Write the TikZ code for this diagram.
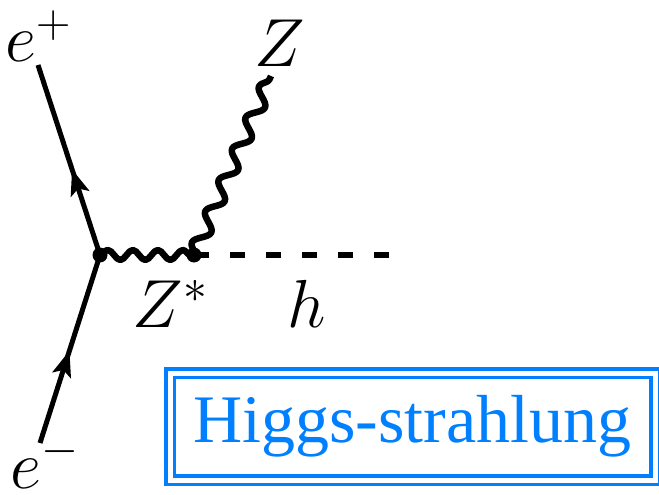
\RequirePackage{fix-cm}
\documentclass[tikz,border=0pt]{standalone}
\usepackage{fontspec}
\usepackage{tikz}
\usetikzlibrary{calc,decorations.pathmorphing}
\newfontfamily\boxserif{Liberation Serif}
\definecolor{hsblue}{RGB}{0,128,255}

\begin{document}
\begin{tikzpicture}[
  x=1pt, y=-1pt,
  font=\fontsize{68}{80}\selectfont,
  every node/.style={inner sep=0pt},
  fermion/.style={line width=5pt},
  zstar/.style={line width=6.5pt, line join=round, decorate,
    decoration={snake, segment length=25pt, amplitude=5pt}},
  zboson/.style={line width=6.5pt, line join=round, decorate,
    decoration={snake, segment length=34pt, amplitude=7pt}},
  scalar/.style={line width=5.5pt, dash pattern=on 15pt off 21pt},
  dot/.style={circle, fill, inner sep=0pt, minimum size=15pt},
  hsbox/.style={draw=hsblue, text=hsblue, double=white, double distance=5pt,
    line width=3.5pt, minimum width=485pt, minimum height=107pt, inner sep=0pt,
    font=\fontsize{68}{80}\selectfont\boxserif}
]
\useasboundingbox (0,0) rectangle (659,495);
% vertices and external legs
\coordinate (v1) at (100,255);
\coordinate (v2) at (194,255);
\coordinate (ep) at (38,65);
\coordinate (em) at (40,443);
\coordinate (zp) at (271,76);
\coordinate (hp) at (401,255);
% arrow tips and their bases
\coordinate (t1) at ($(em)!0.49!(v1)$);
\coordinate (b1) at ($(t1)!26pt!(em)$);
\coordinate (t2) at ($(v1)!0.45!(ep)$);
\coordinate (b2) at ($(t2)!26pt!(v1)$);
% lines
\draw[fermion] (em) -- (v1);
\draw[fermion] (v1) -- (ep);
\fill (t1) -- ($(b1)!10pt!90:(t1)$) -- ($(t1)!20pt!(b1)$) -- ($(b1)!10pt!-90:(t1)$) -- cycle;
\fill (t2) -- ($(b2)!10pt!90:(t2)$) -- ($(t2)!20pt!(b2)$) -- ($(b2)!10pt!-90:(t2)$) -- cycle;
\draw[scalar] (v2) -- (hp);
\draw[zstar] (v1) -- (v2);
\draw[zboson] (v2) -- (zp);
\node[dot] (d1) at (v1) {};
\node[dot] (d2) at (v2) {};
% labels
\node (lep) at (38,36) {$e^+$};
\node (lem) at (45,462) {$e^-$};
\node (lz) at (280,43) {$Z$};
\node (lzs) at (170,304) {$Z^*$};
\node (lh) at (307,304) {$h$};
\node[hsbox] (hs) at (412.5,426.5) {Higgs-strahlung};
\end{tikzpicture}
\end{document}
